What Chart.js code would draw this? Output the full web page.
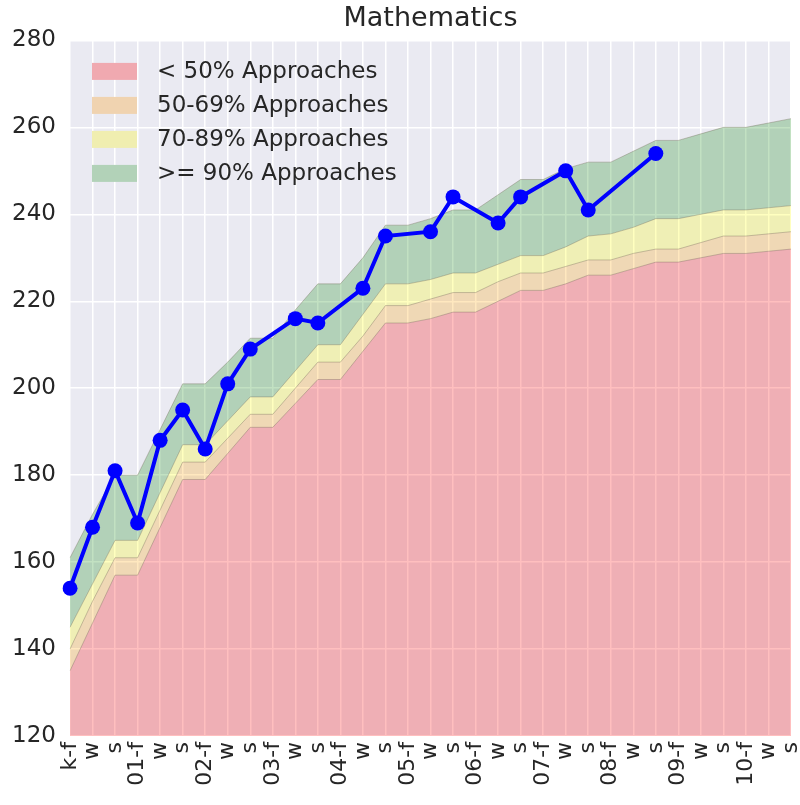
<!DOCTYPE html>
<html><head><meta charset="utf-8">
<script src="https://cdn.jsdelivr.net/npm/chart.js@4.4.1/dist/chart.umd.min.js"></script>
<style>html,body{margin:0;padding:0;background:#fff;}</style>
</head><body>
<canvas id="c" width="800" height="805"></canvas>
<script>
const categories = ['k-f','w','s','01-f','w','s','02-f','w','s','03-f','w','s','04-f','w','s','05-f','w','s','06-f','w','s','07-f','w','s','08-f','w','s','09-f','w','s','10-f','w','s'];
const below50 = [135,146,157,157,168,179,179,185,191,191,196.5,202,202,208.5,215,215,216,217.5,217.5,220,222.5,222.5,224,226,226,227.5,229,229,230,231,231,231.5,232];
const upTo69 = [140,151,161,161,172,183,183,188.5,194,194,200,206,206,212,219,219,220.5,222,222,224.5,226.5,226.5,228,229.5,229.5,231,232,232,233.5,235,235,235.5,236];
const upTo89 = [145,155,165,165,176,187,187,192.5,198,198,204,210,210,217,224,224,225,226.5,226.5,228.5,230.5,230.5,232.5,235,235.5,237,239,239,240,241,241,241.5,242];
const upTo100 = [161,171,180,180,190.5,201,201,206,211.5,211.5,218,224,224,230,237.5,237.5,239,241,241,244.5,248,248,250.5,252,252,254.5,257,257,258.5,260,260,261,262];
const scores = [154,168,181,169,188,195,186,201,209,null,216,215,null,223,235,null,236,244,null,238,244,null,250,241,null,null,254,null,null,null,null,null,null];
const legendLabels = ['< 50% Approaches','50-69% Approaches','70-89% Approaches','>= 90% Approaches'];
const yTicks = {min:120, max:280, step:20};

const bandFill = ['rgba(255,0,0,0.25)','rgba(255,165,0,0.25)','rgba(255,255,0,0.25)','rgba(0,128,0,0.24)'];
const swatch = ['#f0a9b0','#f0d3b0','#f0eeb0','#b2d2b8'];
const edge = 'rgba(110,100,80,0.35)';
const textColor = '#262626';
const FONT = "'DejaVu Sans', sans-serif";

const bgPlugin = {
  id:'bg',
  beforeDraw(chart){
    const {ctx, chartArea:a} = chart;
    ctx.save(); ctx.fillStyle='#EAEAF2';
    ctx.fillRect(a.left,a.top,a.right-a.left,a.bottom-a.top); ctx.restore();
  }
};
const legendPlugin = {
  id:'lg',
  afterDraw(chart){
    const {ctx, chartArea:a} = chart;
    ctx.save();
    ctx.font = "23px " + FONT;
    ctx.textBaseline = 'middle';
    for(let i=0;i<legendLabels.length;i++){
      const cy = a.top + 31 + i*34;
      ctx.fillStyle = swatch[i];
      ctx.fillRect(a.left+22, cy-8.5, 45, 17);
      ctx.fillStyle = textColor;
      ctx.fillText(legendLabels[i], a.left+87, cy+1);
    }
    ctx.restore();
  }
};

function band(data, i, fill){
  return {label:legendLabels[i], data, fill, backgroundColor:bandFill[i], borderColor:edge,
    borderWidth:1, pointRadius:0, tension:0, order:2};
}

new Chart(document.getElementById('c'), {
  type:'line',
  data:{
    labels:categories,
    datasets:[
      band(below50,0,'start'),
      band(upTo69,1,'-1'),
      band(upTo89,2,'-1'),
      band(upTo100,3,'-1'),
      {label:'Score', data:scores, spanGaps:true, borderColor:'#0000ff', backgroundColor:'#0000ff',
       borderWidth:4, pointRadius:7.5, pointHoverRadius:7.5, pointBorderWidth:0, fill:false, tension:0, order:0}
    ]
  },
  options:{
    responsive:false, animation:false, devicePixelRatio:1,
    layout:{padding:{left:0,right:9,top:0,bottom:0}},
    plugins:{
      legend:{display:false}, tooltip:{enabled:false},
      title:{display:true, text:'Mathematics', fullSize:false, color:textColor,
        font:{family:FONT, size:27, weight:'normal'}, padding:{top:3,bottom:5}}
    },
    scales:{
      x:{type:'category', offset:false,
        grid:{color:'#ffffff', lineWidth:1.5, drawTicks:false},
        border:{display:false},
        ticks:{autoSkip:false, maxRotation:90, minRotation:90, color:textColor, padding:6,
          font:{family:FONT, size:22}},
        afterFit(s){ s.height = 69; s.paddingLeft = 0; s.paddingRight = 0; }
      },
      y:{min:yTicks.min, max:yTicks.max,
        grid:{color:'#ffffff', lineWidth:1.5, drawTicks:false},
        border:{display:false},
        ticks:{stepSize:yTicks.step, color:textColor, padding:14, font:{family:FONT, size:23}},
        afterFit(s){ s.width = 70; s.paddingTop = 0; s.paddingBottom = 0; }
      }
    }
  },
  plugins:[bgPlugin, legendPlugin]
});
</script>
</body></html>
